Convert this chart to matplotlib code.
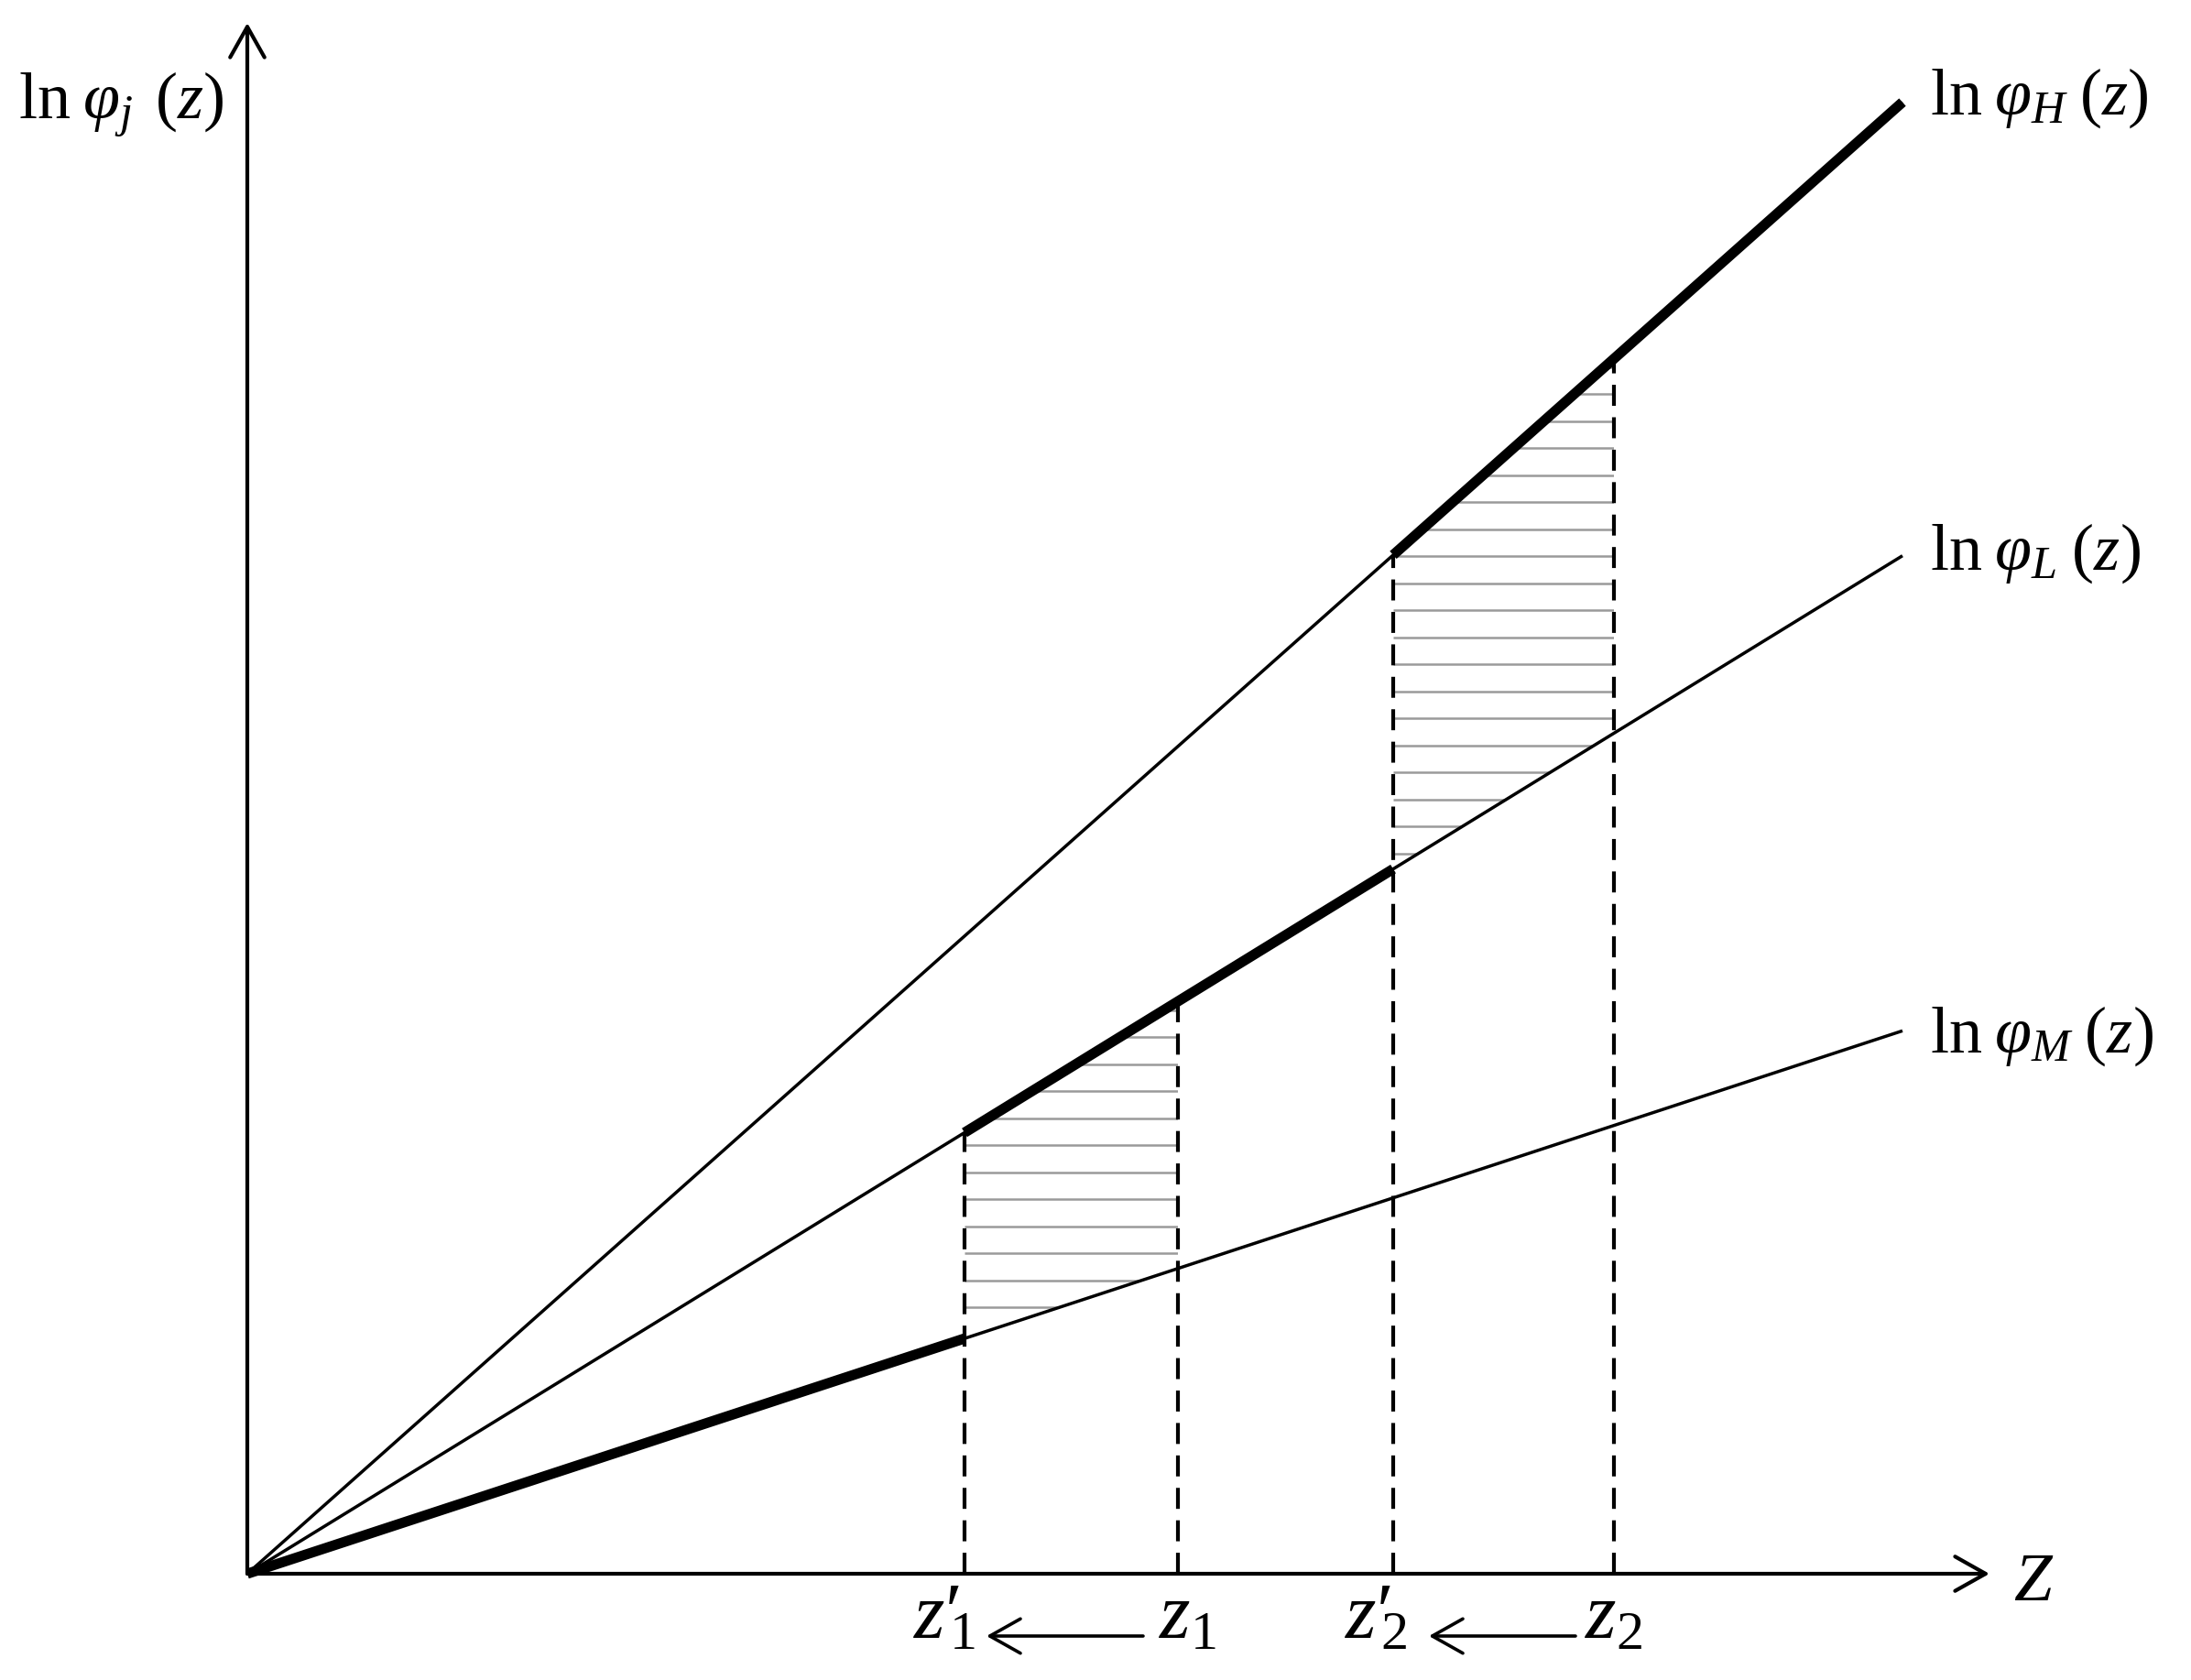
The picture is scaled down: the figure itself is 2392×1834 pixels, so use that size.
import numpy as np
import matplotlib
matplotlib.use("Agg")
import matplotlib.pyplot as plt
from matplotlib.patches import Polygon

# ---------------- data ----------------
z_end = 18.07                      # where the three lines end
slope_H = 0.889                    # ln phi_H(z) = slope_H * z
slope_L = 0.615                    # ln phi_L(z)
slope_M = 0.328                    # ln phi_M(z)
z1p, z1, z2p, z2 = 7.83, 10.16, 12.51, 14.92   # z1', z1, z2', z2
y_axis_top = 16.93
x_axis_end = 19.02

line_labels = [r"$\mathrm{ln}\;\varphi_H\;(z)$",
               r"$\mathrm{ln}\;\varphi_L\;(z)$",
               r"$\mathrm{ln}\;\varphi_M\;(z)$"]
tick_labels = [r"$z{\prime}_{\!\!1}$", r"$z_1$", r"$z{\prime}_{\!\!2}$", r"$z_2$"]

# ---------------- style ----------------
plt.rcParams['mathtext.fontset'] = 'custom'
plt.rcParams['mathtext.rm'] = 'Liberation Serif'
plt.rcParams['mathtext.it'] = 'Liberation Serif:italic'
plt.rcParams['mathtext.bf'] = 'Liberation Serif:bold'
plt.rcParams['font.family'] = ['Liberation Serif', 'DejaVu Serif']

fig = plt.figure(figsize=(23.92, 18.34), dpi=100)
ax = fig.add_axes([0, 0, 1, 1])
ax.set_xlim(-2.70, 21.22)
ax.set_ylim(-1.16, 17.18)
ax.axis('off')

THIN = 2.5
THICK = 8.0
AX_LW = 3.0
HEAD = '->,head_length=2.4,head_width=1.35'

f = {'H': lambda x: slope_H * np.asarray(x),
     'L': lambda x: slope_L * np.asarray(x),
     'M': lambda x: slope_M * np.asarray(x)}

# axes arrows
ax.annotate('', xy=(0, y_axis_top), xytext=(0, 0),
            arrowprops=dict(arrowstyle=HEAD, lw=AX_LW, color='black',
                            shrinkA=0, shrinkB=0, mutation_scale=10), zorder=5)
ax.annotate('', xy=(x_axis_end, 0), xytext=(0, 0),
            arrowprops=dict(arrowstyle=HEAD, lw=AX_LW, color='black',
                            shrinkA=0, shrinkB=0, mutation_scale=10), zorder=5)

# hatched regions (horizontal gray lines clipped to polygon)
def hatch_region(xa, xb, low, high, start, step=0.295):
    xs = np.linspace(xa, xb, 60)
    verts = np.column_stack([np.r_[xs, xs[::-1]],
                             np.r_[f[low](xs), f[high](xs[::-1])]])
    patch = Polygon(verts, closed=True, facecolor='none', edgecolor='none')
    ax.add_patch(patch)
    ys = np.arange(f[low](xa) + start, f[high](xb), step)
    lc = ax.hlines(ys, xa, xb, colors='#9a9a9a', lw=1.8, zorder=1)
    lc.set_clip_path(patch)

hatch_region(z1p, z1, 'M', 'L', 0.34)
hatch_region(z2p, z2, 'L', 'H', 0.17)

# the three lines
xx = np.array([0, z_end])
for k in ['H', 'L', 'M']:
    ax.plot(xx, f[k](xx), color='black', lw=THIN, solid_capstyle='butt', zorder=3)

# thick segments
seg_M = np.array([0, z1p])
seg_L = np.array([z1p, z2p])
seg_H = np.array([z2p, z_end])
ax.plot(seg_M, f['M'](seg_M), color='black', lw=THICK, solid_capstyle='butt', zorder=4)
ax.plot(seg_L, f['L'](seg_L), color='black', lw=THICK, solid_capstyle='butt', zorder=4)
ax.plot(seg_H, f['H'](seg_H), color='black', lw=THICK, solid_capstyle='butt', zorder=4)

# dashed verticals
tops = [f['L'](z1p), f['L'](z1), f['H'](z2p), f['H'](z2)]
for xv, top in zip([z1p, z1, z2p, z2], tops):
    ax.plot([xv, xv], [0, top], color='black', lw=3.0, dashes=(5.5, 3.0), zorder=2)

# line labels
for lab, k, dy in zip(line_labels, ['H', 'L', 'M'], [-0.13, -0.15, -0.23]):
    ax.text(z_end + 0.30, float(f[k](z_end)) + dy, lab, fontsize=52,
            ha='left', va='baseline')

ax.text(-2.50, 15.88, r"$\mathrm{ln}\;\varphi_j\;\,(z)$", fontsize=52,
        ha='left', va='baseline')
ax.text(19.28, -0.29, r"$Z$", fontsize=54, ha='left', va='baseline')

# bottom labels
offsets = [-0.56, -0.21, -0.53, -0.32]
for lab, xv, off in zip(tick_labels, [z1p, z1, z2p, z2], offsets):
    ax.text(xv + off, -0.70, lab, fontsize=62, ha='left', va='baseline')

for tip, tail in [(z1p + 0.24, z1 - 0.38), (z2p + 0.39, z2 - 0.42)]:
    ax.annotate('', xy=(tip, -0.68), xytext=(tail, -0.68),
                arrowprops=dict(arrowstyle=HEAD, lw=2.6, color='black',
                                shrinkA=0, shrinkB=0, mutation_scale=10))

fig.savefig('out.png', dpi=100, facecolor='white')
